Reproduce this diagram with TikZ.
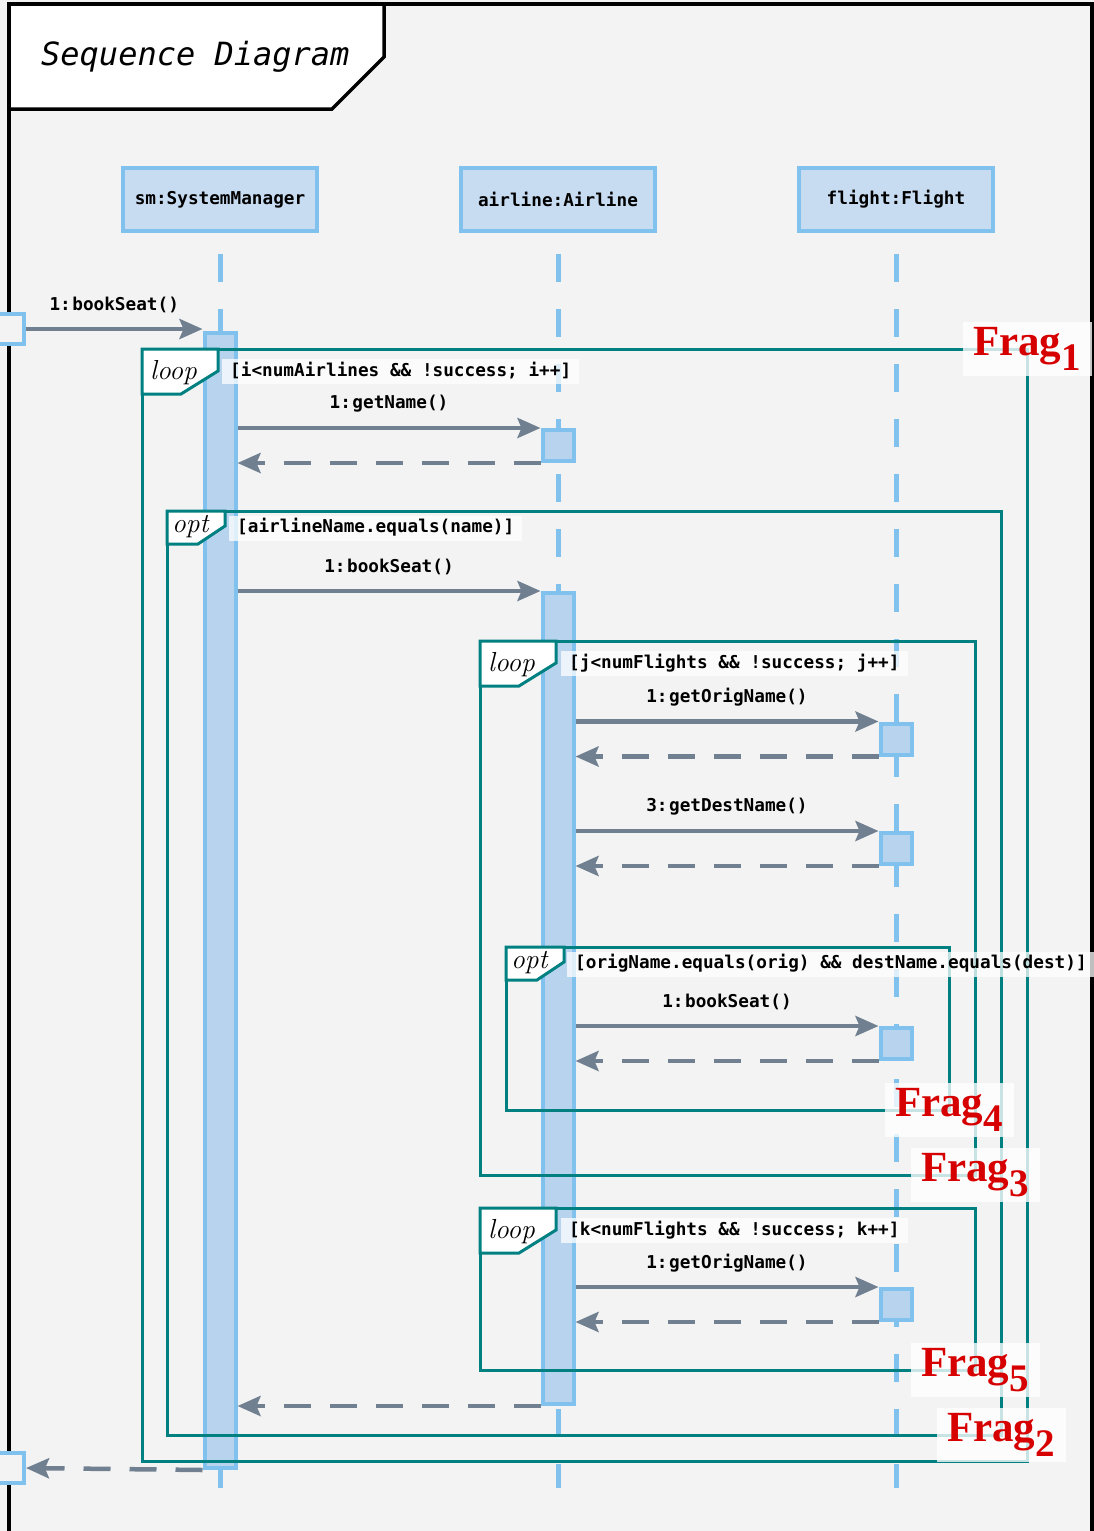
\documentclass[tikz,border=0pt]{standalone}
\usepackage{fontspec}
\newfontfamily\umlmono{DejaVu Sans Mono}
\newfontfamily\fragfont{Liberation Serif}
\usetikzlibrary{arrows.meta,calc}

\definecolor{bgc}{HTML}{F3F3F3}
\definecolor{lifeblue}{HTML}{80C1EE}
\definecolor{headfill}{HTML}{C8DCF1}
\definecolor{actfill}{HTML}{B8D3EE}
\definecolor{msgc}{HTML}{708090}
\definecolor{fragc}{HTML}{008080}
\definecolor{fragred}{HTML}{D70000}

\tikzset{
  x=1pt, y=-1pt,
  monofont/.style={font=\umlmono\bfseries\fontsize{17.7}{20}\selectfont},
  header/.style={draw=lifeblue, line width=4pt, fill=headfill, minimum width=194pt,
    minimum height=63pt, inner sep=0pt, monofont},
  lifeline/.style={draw=lifeblue, line width=5pt, dash pattern=on 27.5pt off 27.5pt},
  actbar/.style={draw=lifeblue, line width=4pt, fill=actfill, minimum width=31pt,
    minimum height=31pt, inner sep=0pt},
  endbox/.style={draw=lifeblue, line width=4pt, fill=bgc, minimum size=30pt, inner sep=0pt},
  msg/.style={draw=msgc, line width=4.5pt, -{Stealth[length=23pt,width=20pt,inset=4pt]}},
  reply/.style={msg, dash pattern=on 27pt off 19pt},
  msglabel/.style={monofont, inner sep=0pt, midway, yshift=24pt},
  fragline/.style={draw=fragc, line width=3pt},
  fraghead/.style={fragline, fill=white},
  fragkind/.style={font=\fontsize{27.5}{30}\selectfont\itshape, inner sep=0pt, anchor=base west},
  guard/.style={fill=white, fill opacity=0.75, text opacity=1, inner xsep=8pt, inner ysep=4pt,
    text height=13pt, text depth=4pt, anchor=west, monofont},
  fraglabel/.style={fill=white, fill opacity=0.78, text opacity=1, text=fragred,
    font=\fragfont\bfseries\fontsize{43}{43}\selectfont, inner xsep=6pt, inner ysep=0pt,
    text height=33pt, text depth=21pt, minimum width=129pt, anchor=base},
}
\newcommand{\fragsub}[1]{\raisebox{-15pt}{\fontsize{39}{39}\selectfont #1}\hspace{13pt}}

\begin{document}
\begin{tikzpicture}
\path[use as bounding box] (0,0) rectangle (1094,1531);
\clip (0,0) rectangle (1094,1531);
\fill[bgc] (0,0) rectangle (1094,1531);

% outer diagram frame and its title tab
\draw[line width=3.5pt] (9,1600) -- (9,4) -- (1092,4) -- (1092,1600);
\draw[line width=3.5pt, fill=white] (9,4) -- (384,4) -- (384,57) -- (332,109) -- (9,109) -- cycle;
\node[anchor=base west, inner sep=0pt, font=\umlmono\itshape\fontsize{32}{36}\selectfont]
  (title) at (41,65) {Sequence Diagram};

% participants and lifelines
\node[header] (hdSM)  at (220,199.5) {sm:SystemManager};
\node[header] (hdAir) at (558,199.5) {airline:Airline};
\node[header] (hdFl)  at (896,199.5) {flight:Flight};
\coordinate (llend) at (0,1488);
\draw[lifeline] ([yshift=-21pt]hdSM.south)  -- (hdSM.south |- llend);
\draw[lifeline] ([yshift=-21pt]hdAir.south) -- (hdAir.south |- llend);
\draw[lifeline] ([yshift=-21pt]hdFl.south)  -- (hdFl.south |- llend);

% activation bars
\node[actbar, minimum height=1135pt] (actSM) at (220,900.5) {};
\node[actbar] (actA1) at (558,445.5) {};
\node[actbar, minimum height=811pt] (actA2) at (558,998.5) {};
\node[actbar] (actF1) at (896,739) {};
\node[actbar] (actF2) at (896,848.5) {};
\node[actbar] (actF3) at (896,1043.5) {};
\node[actbar] (actF4) at (896,1304.5) {};

% combined fragments
\coordinate (f1nw) at (142,349);  \coordinate (f1se) at (1027,1461);
\coordinate (f2nw) at (167,511);  \coordinate (f2se) at (1001,1435);
\coordinate (f3nw) at (480,641);  \coordinate (f3se) at (975,1175);
\coordinate (f4nw) at (506,947);  \coordinate (f4se) at (949,1110);
\coordinate (f5nw) at (480,1208); \coordinate (f5se) at (975,1370);

\draw[fragline] (f1nw) rectangle (f1se);
\draw[fraghead] (f1nw) -- ++(76,0) -- ++(0,22) -- ++(-37,23) -- ++(-39,0) -- cycle;
\node[fragkind] (k1) at ($(f1nw)+(8,30)$) {loop};

\draw[fragline] (f2nw) rectangle (f2se);
\draw[fraghead] (f2nw) -- ++(58,0) -- ++(0,15) -- ++(-27,18) -- ++(-31,0) -- cycle;
\node[fragkind] (k2) at ($(f2nw)+(5,21)$) {opt};

\draw[fragline] (f3nw) rectangle (f3se);
\draw[fraghead] (f3nw) -- ++(76,0) -- ++(0,22) -- ++(-37,23) -- ++(-39,0) -- cycle;
\node[fragkind] (k3) at ($(f3nw)+(8,30)$) {loop};

\draw[fragline] (f4nw) rectangle (f4se);
\draw[fraghead] (f4nw) -- ++(58,0) -- ++(0,15) -- ++(-27,18) -- ++(-31,0) -- cycle;
\node[fragkind] (k4) at ($(f4nw)+(5,21)$) {opt};

\draw[fragline] (f5nw) rectangle (f5se);
\draw[fraghead] (f5nw) -- ++(76,0) -- ++(0,22) -- ++(-37,23) -- ++(-39,0) -- cycle;
\node[fragkind] (k5) at ($(f5nw)+(8,30)$) {loop};

% found and lost message ends
\node[endbox] (found) at (9,329) {};
\node[endbox] (lost) at (9,1468) {};

% messages
\draw[msg] (found.east) -- node[msglabel] {1:\kern1.5pt{}bookSeat()} (found.east -| actSM.west);

\draw[msg] (actSM.east |- actA1.north west) -- node[msglabel] {1:\kern1.5pt{}getName()} (actA1.north west);
\draw[reply] (actA1.south west) -- (actSM.east |- actA1.south west);

\draw[msg] (actSM.east |- actA2.north west) -- node[msglabel] {1:\kern1.5pt{}bookSeat()} (actA2.north west);

\draw[msg] (actA2.east |- actF1.north west) -- node[msglabel] {1:\kern1.5pt{}getOrigName()} (actF1.north west);
\draw[reply] (actF1.south west) -- (actA2.east |- actF1.south west);

\draw[msg] (actA2.east |- actF2.north west) -- node[msglabel] {3:\kern1.5pt{}getDestName()} (actF2.north west);
\draw[reply] (actF2.south west) -- (actA2.east |- actF2.south west);

\draw[msg] (actA2.east |- actF3.north west) -- node[msglabel] {1:\kern1.5pt{}bookSeat()} (actF3.north west);
\draw[reply] (actF3.south west) -- (actA2.east |- actF3.south west);

\draw[msg] (actA2.east |- actF4.north west) -- node[msglabel] {1:\kern1.5pt{}getOrigName()} (actF4.north west);
\draw[reply] (actF4.south west) -- (actA2.east |- actF4.south west);

\draw[reply] (actA2.south west) -- (actSM.east |- actA2.south west);
\draw[reply] (actSM.south west) -- (lost.east);

% guards
\node[guard] (g1) at ($(f1nw)+(80,22.5)$) {[i<numAirlines \&\& !success; i++]};
\node[guard] (g2) at ($(f2nw)+(62,17)$) {[airlineName.equals(name)]};
\node[guard] (g3) at ($(f3nw)+(81,22.5)$) {[j<numFlights \&\& !success; j++]};
\node[guard] (g4) at ($(f4nw)+(61,17)$) {[origName.equals(orig) \&\& destName.equals(dest)]};
\node[guard] (g5) at ($(f5nw)+(81,22.5)$) {[k<numFlights \&\& !success; k++]};

% fragment tags
\path (f1nw -| f1se) ++(0,6) node[fraglabel] (lab1) {Frag\fragsub{1}};
\path (f2se) ++(0,6) node[fraglabel] (lab2) {Frag\fragsub{2}};
\path (f3se) ++(0,6) node[fraglabel] (lab3) {Frag\fragsub{3}};
\path (f4se) ++(0,6) node[fraglabel] (lab4) {Frag\fragsub{4}};
\path (f5se) ++(0,6) node[fraglabel] (lab5) {Frag\fragsub{5}};
\end{tikzpicture}
\end{document}
